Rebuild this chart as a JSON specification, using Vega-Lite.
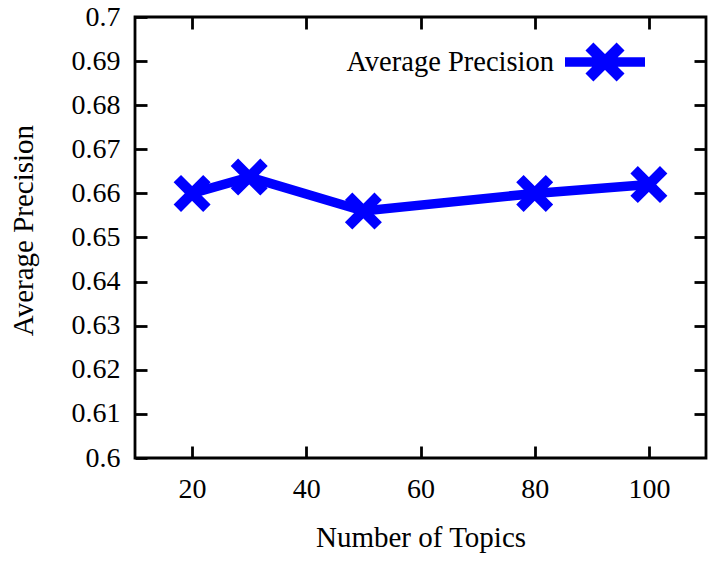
{
  "$schema": "https://vega.github.io/schema/vega-lite/v6.json",
  "autosize": "none",
  "width": 571,
  "height": 441,
  "padding": {"left": 135, "top": 17, "right": 19, "bottom": 103},
  "background": "white",
  "config": {
    "font": "Liberation Serif",
    "view": {"stroke": "black", "strokeWidth": 2.8},
    "axis": {
      "domain": false,
      "grid": false,
      "tickColor": "black",
      "tickWidth": 2.8,
      "tickSize": 12,
      "offset": -12,
      "labelFont": "Liberation Serif",
      "labelFontSize": 28,
      "labelColor": "black",
      "titleFont": "Liberation Serif",
      "titleFontSize": 29,
      "titleFontWeight": "normal",
      "titleColor": "black"
    },
    "legend": {"padding": 0}
  },
  "data": {
    "values": [
      {"topics": 20, "precision": 0.660, "series": "Average Precision"},
      {"topics": 30, "precision": 0.6637, "series": "Average Precision"},
      {"topics": 50, "precision": 0.656, "series": "Average Precision"},
      {"topics": 80, "precision": 0.660, "series": "Average Precision"},
      {"topics": 100, "precision": 0.662, "series": "Average Precision"}
    ]
  },
  "resolve": {"axis": {"x": "independent", "y": "independent"}},
  "layer": [
    {
      "mark": {"type": "line", "color": "#0000ff", "strokeWidth": 9.5, "strokeJoin": "miter"},
      "encoding": {
        "x": {
          "field": "topics", "type": "quantitative",
          "scale": {"domain": [10, 110], "nice": false, "zero": false},
          "axis": {"orient": "bottom", "offset": -12, "tickSize": 12, "values": [20, 40, 60, 80, 100], "title": "Number of Topics", "labelFont": "Liberation Serif", "titleFont": "Liberation Serif", "labelFontSize": 28, "titleFontSize": 29, "labelPadding": 17, "titlePadding": 20}
        },
        "y": {
          "field": "precision", "type": "quantitative",
          "scale": {"domain": [0.6, 0.7], "nice": false, "zero": false},
          "axis": {"orient": "left", "offset": -12, "tickSize": 12, "values": [0.6, 0.61, 0.62, 0.63, 0.64, 0.65, 0.66, 0.67, 0.68, 0.69, 0.7], "format": ".2~f", "title": "Average Precision", "labelFont": "Liberation Serif", "titleFont": "Liberation Serif", "labelFontSize": 28, "titleFontSize": 29, "labelPadding": 15, "titlePadding": 33, "titleY": 213}
        }
      }
    },
    {
      "mark": {"type": "point", "filled": true, "opacity": 1, "size": 1750, "shape": "M0.884,0.53L0.53,0.884L-0.884,-0.53L-0.53,-0.884ZM0.884,-0.53L-0.53,0.884L-0.884,0.53L0.53,-0.884Z"},
      "encoding": {
        "x": {
          "field": "topics", "type": "quantitative",
          "axis": {"orient": "top", "offset": -12, "tickSize": 12, "values": [20, 40, 60, 80, 100], "labels": false, "title": null}
        },
        "y": {
          "field": "precision", "type": "quantitative",
          "axis": {"orient": "right", "offset": -12, "tickSize": 12, "values": [0.61, 0.62, 0.63, 0.64, 0.65, 0.66, 0.67, 0.68, 0.69], "labels": false, "title": null}
        },
        "color": {
          "field": "series", "type": "nominal",
          "scale": {"range": ["#0000ff"]},
          "legend": {
            "title": null,
            "orient": "none",
            "legendX": 430,
            "legendY": 5,
            "symbolType": "M-1,-0.12L1,-0.12L1,0.12L-1,0.12ZM0.488,0.29L0.29,0.488L-0.488,-0.29L-0.29,-0.488ZM0.488,-0.29L-0.29,0.488L-0.488,0.29L0.29,-0.488Z",
            "symbolSize": 6400,
            "symbolStrokeWidth": 0,
            "symbolFillColor": "#0000ff",
            "labelAlign": "right",
            "labelOffset": -91,
            "labelLimit": 400,
            "labelFontSize": 28.5,
            "labelFont": "Liberation Serif",
            "labelColor": "black"
          }
        }
      }
    }
  ]
}
